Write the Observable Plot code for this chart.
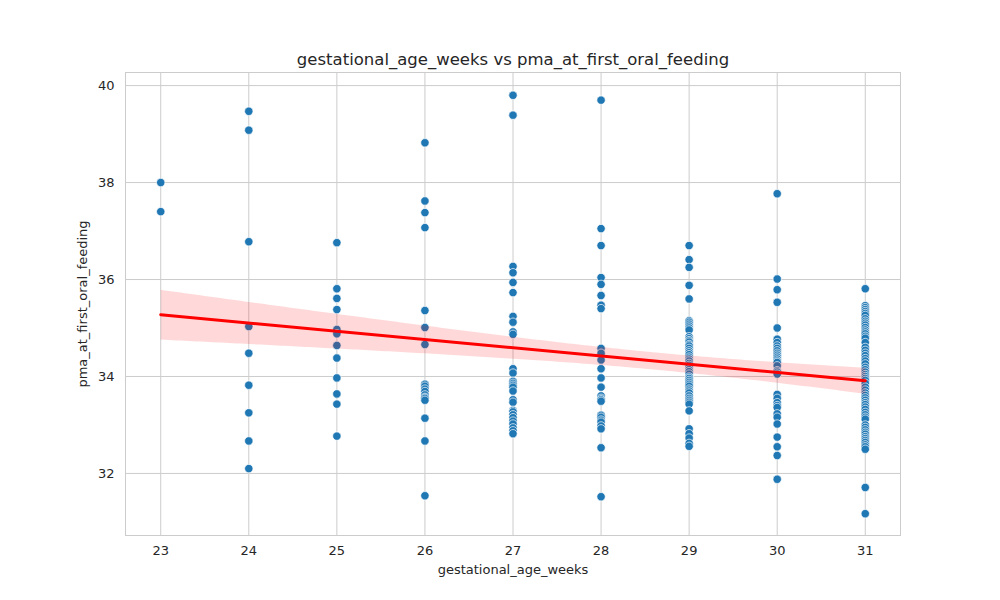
<!DOCTYPE html>
<html>
<head>
<meta charset="utf-8">
<script src="https://cdn.jsdelivr.net/npm/d3@7"></script>
<script src="https://cdn.jsdelivr.net/npm/@observablehq/plot@0.6"></script>
<style>
  html, body { margin: 0; padding: 0; background: #fff; }
  #chart { width: 1000px; height: 600px; }
  svg { font-family: "DejaVu Sans", sans-serif; }
</style>
</head>
<body>
<div id="chart"></div>
<script>
const title = "gestational_age_weeks vs pma_at_first_oral_feeding";
const xLabel = "gestational_age_weeks";
const yLabel = "pma_at_first_oral_feeding";
const xTicks = [23, 24, 25, 26, 27, 28, 29, 30, 31];
const yTicks = [32, 34, 36, 38, 40];

const weeks = [23, 24, 25, 26, 27, 28, 29, 30, 31];
// values read per week (overlapping stacks include hidden duplicates)
const pma23 = [38.0, 37.40];
const pma24 = [39.47, 39.08, 36.78, 35.03, 34.48, 33.82, 33.25, 32.67, 32.10];
const pma25 = [36.76, 35.81, 35.61, 35.38, 34.97, 34.88, 34.64, 34.38, 33.97, 33.64, 33.43, 32.77];
const pma26 = [38.82, 37.62, 37.38, 37.07, 35.36, 35.01, 34.66, 33.84, 33.80, 33.74, 33.69, 33.62, 33.57, 33.55, 33.51, 33.14, 32.67, 31.54];
const pma27 = [39.80, 39.39, 36.27, 36.14, 35.94, 35.73, 35.24, 35.12, 34.92, 34.87, 34.16, 34.07, 33.90, 33.86, 33.82, 33.78, 33.70, 33.52, 33.47, 33.30, 33.27, 33.21, 33.15, 33.08, 33.02, 32.94, 32.88, 32.82];
const pma28 = [39.70, 37.05, 36.70, 36.04, 35.90, 35.67, 35.47, 35.40, 34.58, 34.48, 34.34, 34.16, 33.97, 33.78, 33.60, 33.55, 33.52, 33.49, 33.20, 33.16, 33.10, 33.06, 32.98, 32.92, 32.53, 31.52];
const pma29 = [36.70, 36.41, 36.25, 35.88, 35.60, 35.15, 35.12, 35.08, 35.04, 35.00, 34.96, 34.82, 34.78, 34.74, 34.71, 34.66, 34.63, 34.58, 34.53, 34.49, 34.45, 34.40, 34.36, 34.32, 34.27, 34.23, 34.19, 34.14, 34.10, 34.05, 33.99, 33.96, 33.92, 33.88, 33.84, 33.80, 33.74, 33.70, 33.66, 33.60, 33.55, 33.51, 33.47, 33.43, 33.29, 32.92, 32.82, 32.73, 32.62, 32.56];
const pma30 = [37.77, 36.01, 35.79, 35.53, 35.00, 34.77, 34.70, 34.63, 34.58, 34.53, 34.48, 34.44, 34.40, 34.36, 34.32, 34.29, 34.22, 34.12, 34.09, 34.05, 33.63, 33.55, 33.46, 33.40, 33.36, 33.23, 33.16, 33.02, 32.75, 32.55, 32.37, 31.88];
const pma31 = [35.81, 35.46, 35.42, 35.38, 35.34, 35.30, 35.26, 35.19, 35.14, 35.10, 35.06, 35.01, 34.96, 34.92, 34.88, 34.83, 34.79, 34.70, 34.60, 34.54, 34.48, 34.43, 34.37, 34.32, 34.26, 34.19, 34.14, 34.09, 34.04, 34.00, 33.96, 33.92, 33.86, 33.78, 33.72, 33.66, 33.61, 33.56, 33.51, 33.46, 33.42, 33.37, 33.32, 33.26, 33.21, 33.16, 33.12, 33.00, 32.95, 32.90, 32.85, 32.81, 32.76, 32.72, 32.68, 32.64, 32.59, 32.55, 32.50, 31.71, 31.17];

const series = [pma23, pma24, pma25, pma26, pma27, pma28, pma29, pma30, pma31];
const data = [];
weeks.forEach((w, i) => series[i].forEach(v => data.push({week: w, pma: v})));

const chart = Plot.plot({
  width: 1000,
  height: 600,
  marginLeft: 125,
  marginRight: 100,
  marginTop: 72,
  marginBottom: 65,
  style: {fontFamily: "DejaVu Sans, sans-serif", fontSize: "13px", color: "#262626", background: "white"},
  x: {domain: [22.6, 31.4], ticks: xTicks},
  y: {domain: [30.72, 40.27], ticks: yTicks},
  marks: [
    Plot.gridX(xTicks, {stroke: "#cccccc", strokeOpacity: 1, strokeWidth: 1}),
    Plot.gridY(yTicks, {stroke: "#cccccc", strokeOpacity: 1, strokeWidth: 1}),
    Plot.frame({stroke: "#cccccc", strokeWidth: 1}),
    Plot.axisX(xTicks, {tickSize: 0, tickPadding: 10, fontSize: 13, fill: "#262626",
      label: xLabel, labelAnchor: "center", labelArrow: "none", labelOffset: 38}),
    Plot.axisY(yTicks, {tickSize: 0, tickPadding: 11, fontSize: 13, fill: "#262626",
      label: yLabel, labelAnchor: "center", labelArrow: "none", labelOffset: 48}),
    Plot.dot(data, {x: "week", y: "pma", r: 4.2, fill: "#1f77b4", stroke: "white", strokeWidth: 0.7}),
    Plot.linearRegressionY(data, {x: "week", y: "pma", stroke: "red", strokeWidth: 3, fill: "red", fillOpacity: 0.15, ci: 0.95}),
    Plot.text([title], {frameAnchor: "top", dy: -8, fontSize: 16.5, fill: "#262626", lineAnchor: "bottom"})
  ]
});
document.getElementById("chart").appendChild(chart);
</script>
</body>
</html>
